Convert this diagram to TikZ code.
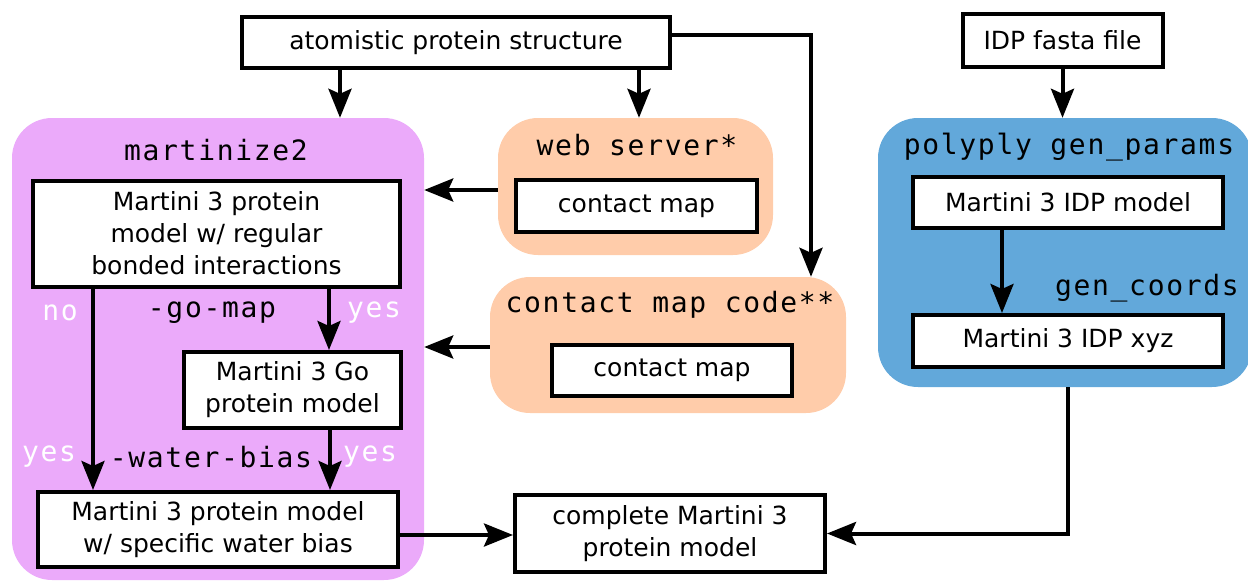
\documentclass[tikz,border=0pt]{standalone}
\usepackage{fontspec}
\usetikzlibrary{arrows.meta}

\newfontfamily\boxfamily{DejaVu Sans}
\newfontfamily\codefamily{DejaVu Sans Mono}[LetterSpace=6]
\newcommand{\boxtext}{\boxfamily\fontsize{25}{32}\selectfont}
\newcommand{\codetext}{\codefamily\fontsize{28}{32}\selectfont}

\definecolor{martinizepink}{RGB}{235,170,250}
\definecolor{contactpeach}{RGB}{255,204,170}
\definecolor{polyplyblue}{RGB}{98,168,218}

\begin{document}
\begin{tikzpicture}[
      x=1pt, y=-1pt,
      step_box/.style={draw, line width=4pt, fill=white, inner sep=0pt, align=center, font=\boxtext},
      region_box/.style={draw=none, rounded corners=40pt, inner sep=0pt},
      code_label/.style={font=\codetext, inner sep=0pt},
      flag_label/.style={font=\codetext, text=white, inner sep=0pt},
      flow_arrow/.style={line width=4pt, -{Stealth[length=29pt,width=23pt,inset=5pt]}}
    ]

    \useasboundingbox (0,0) rectangle (1248,582);

    % ------------------------------------------------------------------ %
    % Coloured tool regions
    % ------------------------------------------------------------------ %

    \node[region_box, fill=martinizepink, minimum width=412pt, minimum height=462pt] (martinize) at (218,349) {};
    \node[region_box, fill=contactpeach, minimum width=275pt, minimum height=137pt] (webserver) at (635.5,186.5) {};
    \node[region_box, fill=contactpeach, minimum width=356pt, minimum height=136pt] (cmcode) at (668,345) {};
    \node[region_box, fill=polyplyblue, minimum width=374pt, minimum height=269pt] (polyply) at (1065,252.5) {};

    \node[code_label] (martinizetitle) at (216,150) {martinize2};
    \node[code_label] (webtitle) at (637,145) {web server*};
    \node[code_label] (cmtitle) at (670,305) {contact map code**};
    \node[code_label] (polyplytitle) at (1069,147) {polyply gen\_params};
    \node[code_label, anchor=east] (coordstitle) at (1239,288) {gen\_coords};

    % ------------------------------------------------------------------ %
    % Input files
    % ------------------------------------------------------------------ %

    \node[step_box, minimum width=428pt, minimum height=51pt] (atomistic) at (456,42.5) {atomistic protein structure};
    \node[step_box, minimum width=200pt, minimum height=53pt] (idpfasta) at (1062.5,40) {IDP fasta file};

    % ------------------------------------------------------------------ %
    % Models and maps
    % ------------------------------------------------------------------ %

    \node[step_box, minimum width=367pt, minimum height=106pt] (regular) at (216.5,233.5) {Martini 3 protein\\model w/ regular\\bonded interactions};
    \node[step_box, minimum width=217pt, minimum height=76pt] (gomodel) at (292.5,390) {Martini 3 Go\\protein model};
    \node[step_box, minimum width=360pt, minimum height=75pt] (waterbias) at (218,529.5) {Martini 3 protein model\\w/ specific water bias};
    \node[step_box, minimum width=310pt, minimum height=77pt] (complete) at (670,533.5) {complete Martini 3\\protein model};

    \node[step_box, minimum width=241pt, minimum height=52pt] (webmap) at (636.5,206) {contact map};
    \node[step_box, minimum width=240pt, minimum height=51pt] (codemap) at (672,370.5) {contact map};

    \node[step_box, minimum width=310pt, minimum height=51pt] (idpmodel) at (1068,202.5) {Martini 3 IDP model};
    \node[step_box, minimum width=310pt, minimum height=52pt] (idpxyz) at (1068,341) {Martini 3 IDP xyz};

    % ------------------------------------------------------------------ %
    % Options inside martinize2
    % ------------------------------------------------------------------ %

    \node[code_label] (gomap) at (212,313) {-go-map};
    \node[code_label] (waterflag) at (211,457) {-water-bias};
    \node[flag_label] (gono) at (60,313) {no};
    \node[flag_label] (goyes) at (374,313) {yes};
    \node[flag_label] (wateryesleft) at (49,457) {yes};
    \node[flag_label] (wateryesright) at (370,457) {yes};

    % ------------------------------------------------------------------ %
    % Connectors
    % ------------------------------------------------------------------ %

    % from the atomistic structure
    \draw[flow_arrow] ([xshift=-116pt]atomistic.south) -- ([xshift=-116pt]atomistic.south |- martinize.north);
    \draw[flow_arrow] ([xshift=183pt]atomistic.south) -- ([xshift=183pt]atomistic.south |- webserver.north);
    \draw[flow_arrow] ([yshift=7.5pt]atomistic.east) -| ([xshift=143pt]cmcode.north);

    % contact maps into martinize2
    \draw[flow_arrow] ([yshift=-3.5pt]webserver.west) -- ([yshift=-3.5pt]webserver.west -| martinize.east);
    \draw[flow_arrow] ([yshift=-2pt]cmcode.west) -- ([yshift=-2pt]cmcode.west -| martinize.east);

    % martinize2 options
    \draw[flow_arrow] ([xshift=-123.5pt]regular.south) -- ([xshift=-123.5pt]regular.south |- waterbias.north);
    \draw[flow_arrow] ([xshift=112.5pt]regular.south) -- ([xshift=112.5pt]regular.south |- gomodel.north);
    \draw[flow_arrow] ([xshift=37.5pt]gomodel.south) -- ([xshift=37.5pt]gomodel.south |- waterbias.north);

    % polyply
    \draw[flow_arrow] (idpfasta.south) -- (idpfasta.south |- polyply.north);
    \draw[flow_arrow] ([xshift=-66pt]idpmodel.south) -- ([xshift=-66pt]idpmodel.south |- idpxyz.north);

    % final model
    \draw[flow_arrow] ([yshift=-1.5pt]waterbias.east |- complete.west) -- ([yshift=-1.5pt]complete.west);
    \draw[flow_arrow] ([xshift=3pt]polyply.south) |- (complete.east);

\end{tikzpicture}
\end{document}
